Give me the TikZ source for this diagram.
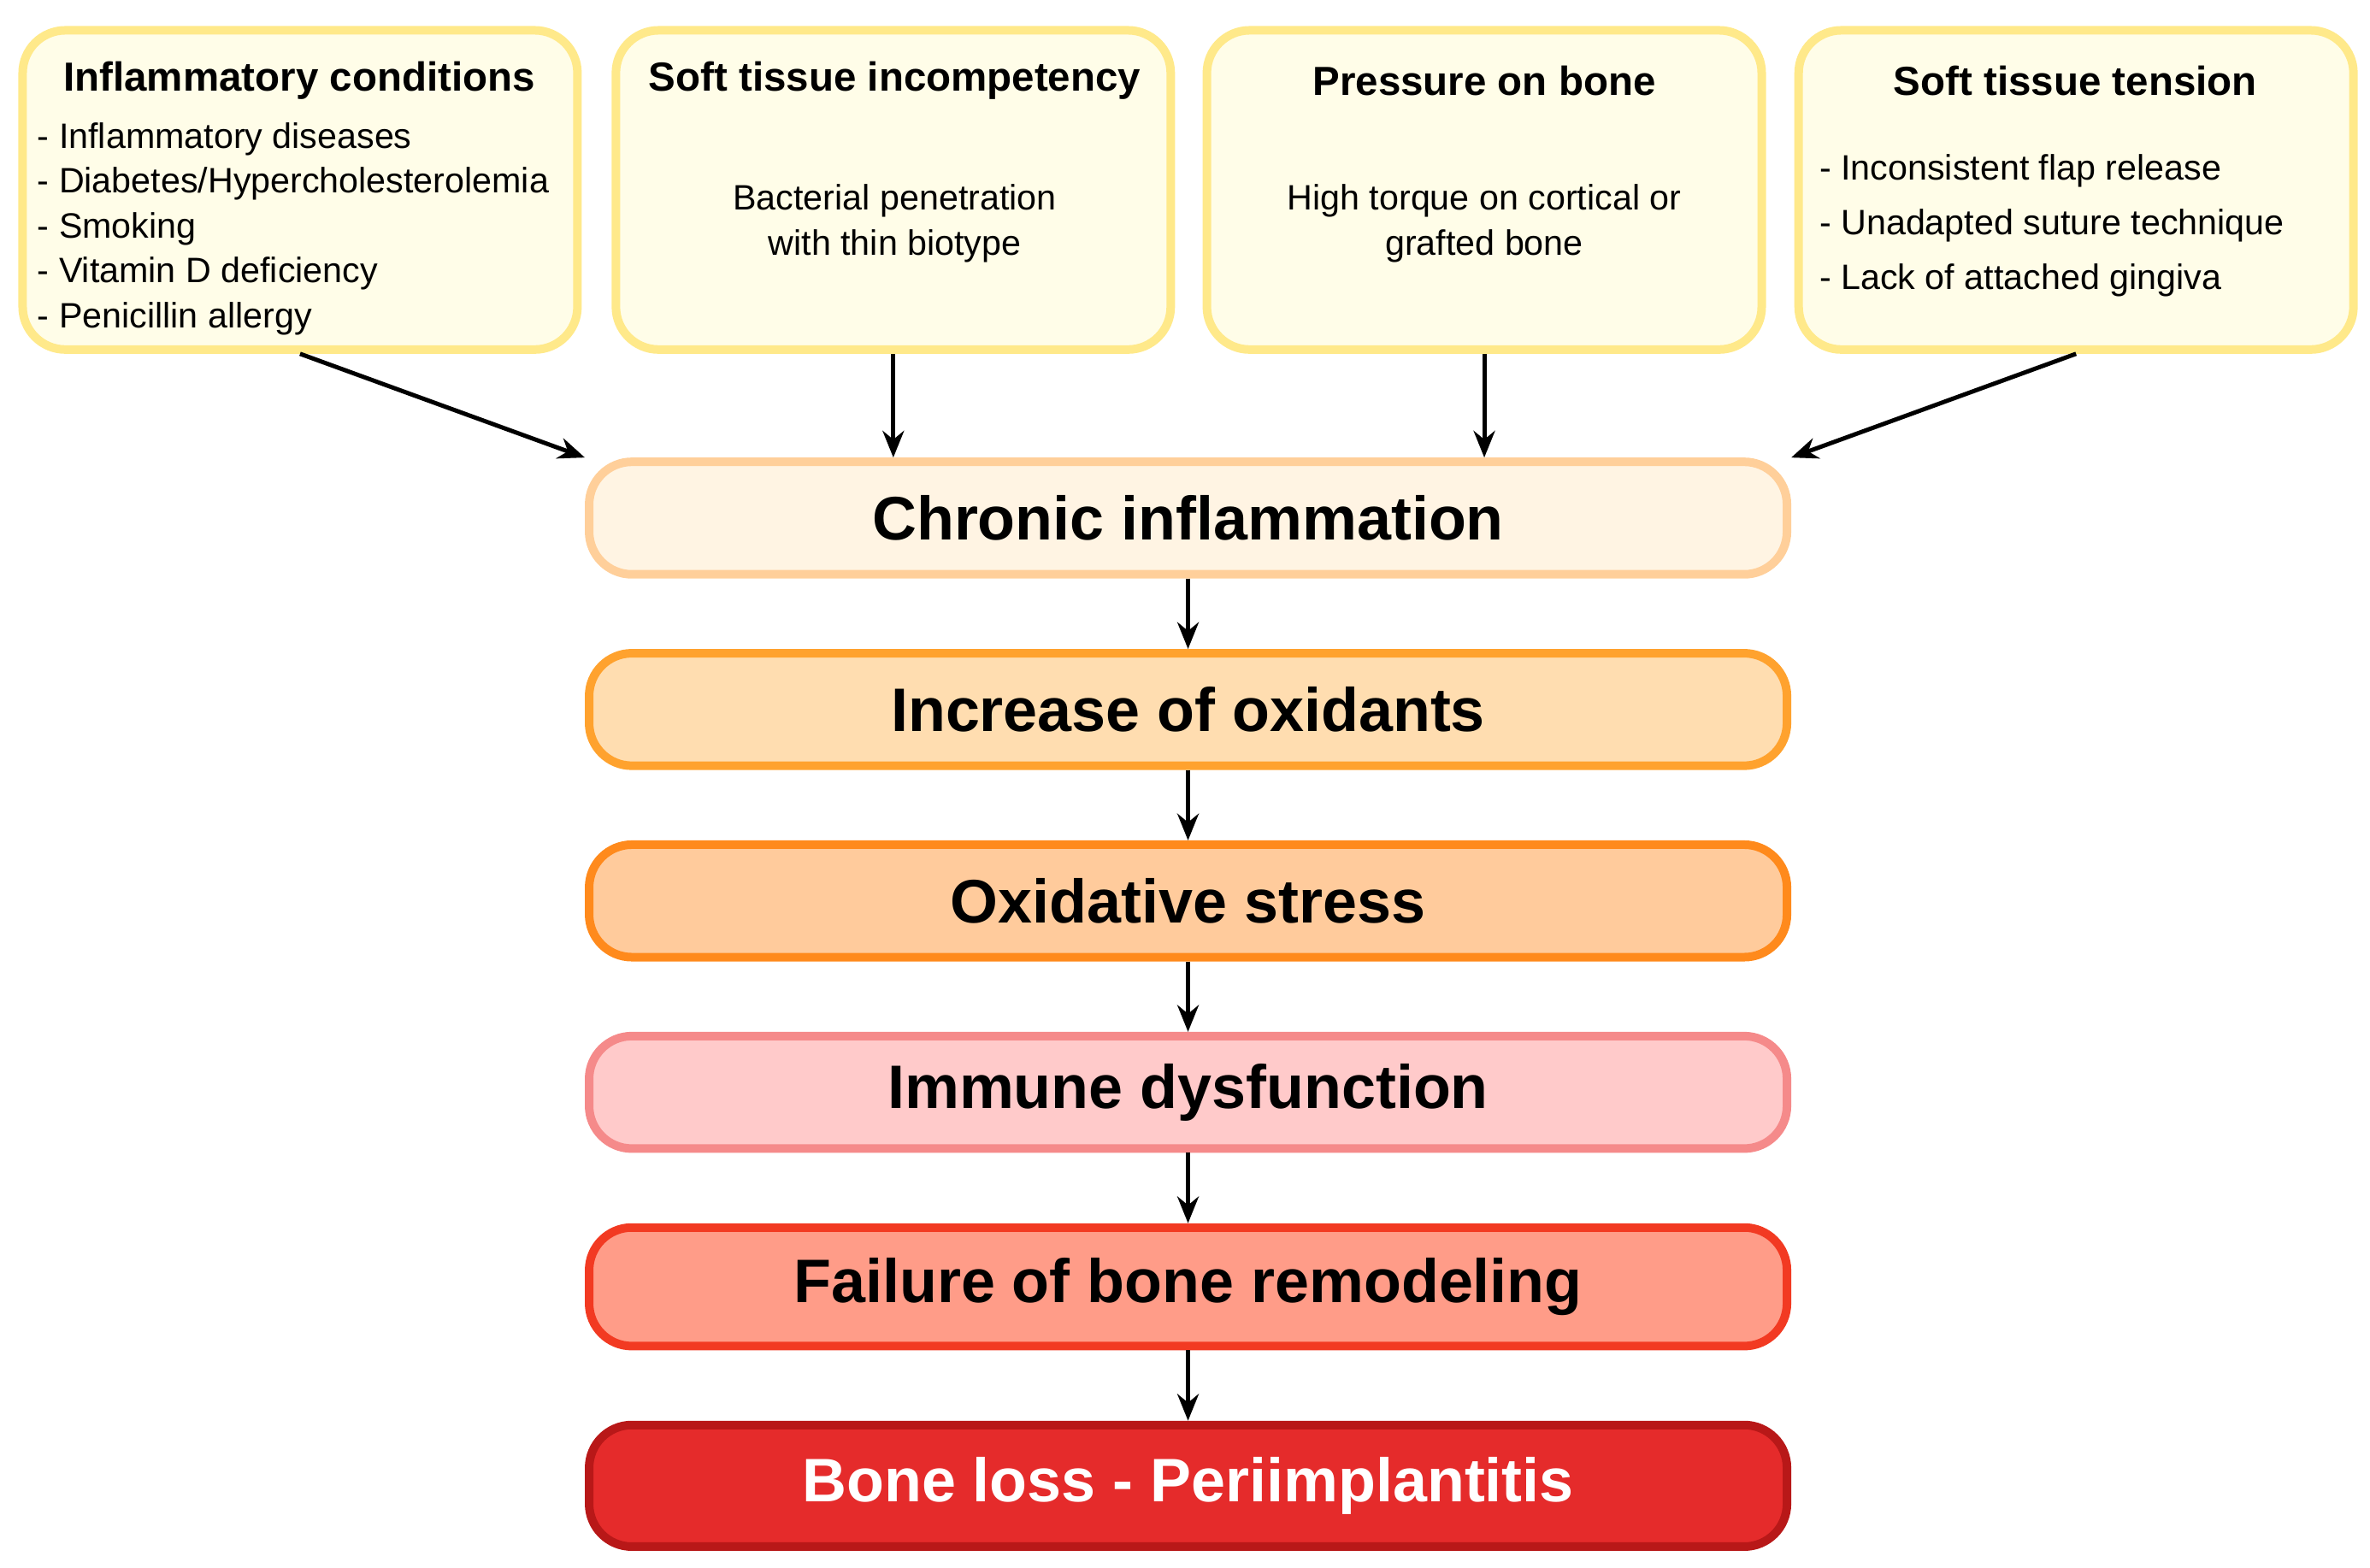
\documentclass[tikz,border=0pt]{standalone}
\usepackage{fontspec}
\setmainfont{Liberation Sans}
\usetikzlibrary{arrows.meta}
\definecolor{tyf}{HTML}{FFFDE8}\definecolor{tyb}{HTML}{FFE98A}
\definecolor{c1f}{HTML}{FFF4E3}\definecolor{c1b}{HTML}{FFCF9A}
\definecolor{c2f}{HTML}{FFDDB0}\definecolor{c2b}{HTML}{FFA22E}
\definecolor{c3f}{HTML}{FFCB9C}\definecolor{c3b}{HTML}{FF8A1C}
\definecolor{c4f}{HTML}{FFCACA}\definecolor{c4b}{HTML}{F58A8A}
\definecolor{c5f}{HTML}{FF9C88}\definecolor{c5b}{HTML}{F23A22}
\definecolor{c6f}{HTML}{E52B2B}\definecolor{c6b}{HTML}{B81818}
\begin{document}
\begin{tikzpicture}[x=0.01cm,y=-0.01cm,
 top/.style={draw=tyb,fill=tyf,line width=1.6pt,rounded corners=8pt,minimum width=3.65cm,minimum height=2.1cm},
 main/.style={line width=1.6pt,rounded corners=8pt,minimum width=7.88cm,minimum height=0.74cm,font=\bfseries\fontsize{11.5}{13}\selectfont},
 ttl/.style={font=\bfseries\fontsize{7.6}{9}\selectfont},
 sm/.style={font=\fontsize{6.6}{8.4}\selectfont,align=left},
 smc/.style={font=\fontsize{6.6}{8.4}\selectfont,align=center},
 arr/.style={-{Stealth[length=5pt,width=4pt]},line width=0.8pt}]
\useasboundingbox (0,0) rectangle (1560,1032);
\node[top] (b1) at (197.5,125) {};
\node[top] (b2) at (588,125) {};
\node[top] (b3) at (977,125) {};
\node[top] (b4) at (1366.5,125) {};
\node[ttl] (t1) at (197,53) {Inflammatory conditions};
\node[ttl] (t2) at (589,53) {Soft tissue incompetency};
\node[ttl] (t3) at (977,53) {Pressure on bone};
\node[ttl] (t4) at (1366,53) {Soft tissue tension};
\node[sm,anchor=north west,inner sep=0pt] (l1) at (24,80) {- Inflammatory diseases\\- Diabetes/Hypercholesterolemia\\- Smoking\\- Vitamin D deficiency\\- Penicillin allergy};
\node[smc] (s2) at (589,147) {Bacterial penetration\\with thin biotype};
\node[smc] (s3) at (977,147) {High torque on cortical or\\grafted bone};
\node[sm,anchor=north west,inner sep=0pt,font=\fontsize{6.6}{10.2}\selectfont] (l4) at (1197,101) {- Inconsistent flap release\\- Unadapted suture technique\\- Lack of attached gingiva};
\node[main,draw=c1b,fill=c1f] (m1) at (782,341) {Chronic inflammation};
\node[main,draw=c2b,fill=c2f] (m2) at (782,467) {Increase of oxidants};
\node[main,draw=c3b,fill=c3f] (m3) at (782,593) {Oxidative stress};
\node[main,draw=c4b,fill=c4f] (m4) at (782,719) {Immune dysfunction};
\node[main,draw=c5b,fill=c5f,minimum height=0.78cm] (m5) at (782,847) {Failure of bone remodeling};
\node[main,draw=c6b,fill=c6f,text=white,minimum height=0.8cm] (m6) at (782,978) {Bone loss - Periimplantitis};
\draw[arr] (b1.south) -- (m1.north west);
\draw[arr] (b2.south) -- (b2.south |- m1.north);
\draw[arr] (b3.south) -- (b3.south |- m1.north);
\draw[arr] (b4.south) -- (m1.north east);
\draw[arr] (m1) -- (m2);
\draw[arr] (m2) -- (m3);
\draw[arr] (m3) -- (m4);
\draw[arr] (m4) -- (m5);
\draw[arr] (m5) -- (m6);
\end{tikzpicture}
\end{document}
